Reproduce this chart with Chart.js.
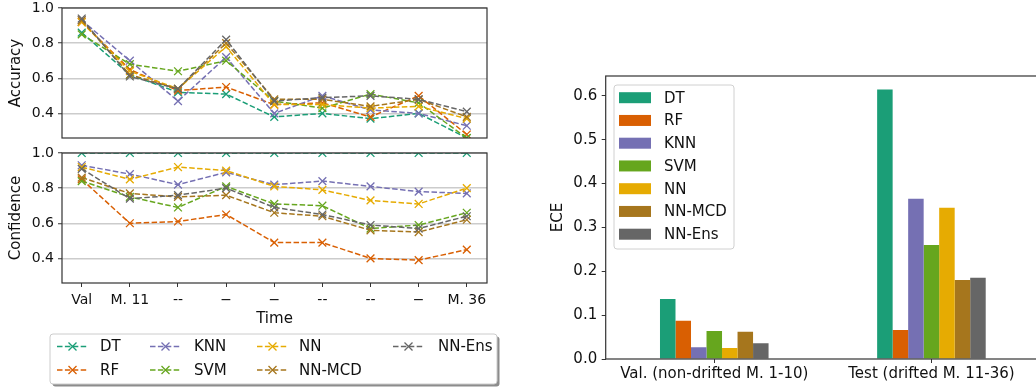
<!DOCTYPE html>
<html>
<head>
<meta charset="utf-8">
<script src="https://cdn.jsdelivr.net/npm/chart.js@4.4.0/dist/chart.umd.min.js"></script>
<style>
  html, body { margin: 0; padding: 0; background: #fff; overflow: hidden; width: 1036px; height: 387px; }
  canvas { position: absolute; }
</style>
</head>
<body>
<canvas id="accChart" width="500" height="150" style="left:0px;top:0px"></canvas>
<canvas id="confChart" width="500" height="242" style="left:0px;top:145px"></canvas>
<canvas id="eceChart" width="540" height="387" style="left:520px;top:0px"></canvas>
<script>
var models = ["DT", "RF", "KNN", "SVM", "NN", "NN-MCD", "NN-Ens"];
var colors = ["#1b9e77", "#d95f02", "#7570b3", "#66a61e", "#e6ab02", "#a6761d", "#666666"];
var timeLabels = ["Val", "M. 11", "--", "−", "−", "--", "--", "−", "M. 36"];
var lineTicks = [0.4, 0.6, 0.8, 1.0];

// accuracy per model over time
var accDT = [0.86, 0.62, 0.52, 0.51, 0.38, 0.40, 0.37, 0.40, 0.26];
var accRF = [0.92, 0.65, 0.53, 0.55, 0.45, 0.46, 0.38, 0.50, 0.28];
var accKNN = [0.93, 0.70, 0.47, 0.72, 0.40, 0.50, 0.42, 0.40, 0.33];
var accSVM = [0.85, 0.68, 0.64, 0.70, 0.47, 0.43, 0.51, 0.46, 0.26];
var accNN = [0.92, 0.64, 0.54, 0.78, 0.45, 0.45, 0.43, 0.44, 0.37];
var accMCD = [0.93, 0.62, 0.54, 0.80, 0.48, 0.48, 0.44, 0.48, 0.38];
var accEns = [0.94, 0.61, 0.54, 0.82, 0.47, 0.49, 0.50, 0.48, 0.41];

// confidence per model over time
var confDT = [1.0, 1.0, 1.0, 1.0, 1.0, 1.0, 1.0, 1.0, 1.0];
var confRF = [0.85, 0.60, 0.61, 0.65, 0.49, 0.49, 0.40, 0.39, 0.45];
var confKNN = [0.93, 0.88, 0.82, 0.89, 0.82, 0.84, 0.81, 0.78, 0.77];
var confSVM = [0.84, 0.75, 0.69, 0.81, 0.71, 0.70, 0.57, 0.59, 0.66];
var confNN = [0.92, 0.85, 0.92, 0.90, 0.81, 0.79, 0.73, 0.71, 0.80];
var confMCD = [0.86, 0.77, 0.75, 0.76, 0.66, 0.64, 0.56, 0.55, 0.62];
var confEns = [0.91, 0.74, 0.76, 0.80, 0.69, 0.65, 0.59, 0.57, 0.64];

// ECE bars
var eceGroups = ["Val. (non-drifted M. 1-10)", "Test (drifted M. 11-36)"];
var eceVal = [0.137, 0.087, 0.027, 0.064, 0.025, 0.062, 0.036];
var eceTest = [0.614, 0.066, 0.365, 0.260, 0.345, 0.180, 0.185];
var eceTicks = [0.0, 0.1, 0.2, 0.3, 0.4, 0.5, 0.6];

var FONT = "'DejaVu Sans', sans-serif";
var TEXT = "#111111";
var SPINE = "#333333";

Chart.defaults.font.family = FONT;
Chart.defaults.color = TEXT;

function lineSets(series) {
  return series.map(function (vals, i) {
    return {
      label: models[i],
      data: vals.map(function (v, k) { return { x: k, y: v }; }),
      borderColor: colors[i],
      backgroundColor: colors[i],
      borderWidth: 1.5,
      borderDash: [5.5, 2.4],
      pointStyle: "crossRot",
      pointRadius: 5.5,
      pointBorderWidth: 1.3,
      pointBorderColor: colors[i],
      fill: false,
      tension: 0,
      clip: 0,
      order: models.length - i
    };
  });
}

// keep tick labels from pushing the plot area around
function noPad(scale) {
  scale.paddingTop = 0;
  scale.paddingBottom = 0;
  scale.paddingLeft = 0;
  scale.paddingRight = 0;
}

var framePlugin = {
  id: "frame",
  afterDatasetsDraw: function (chart) {
    var a = chart.chartArea;
    var ctx = chart.ctx;
    ctx.save();
    ctx.strokeStyle = SPINE;
    ctx.lineWidth = 1.2;
    ctx.strokeRect(a.left, a.top, a.right - a.left, a.bottom - a.top);
    ctx.restore();
  }
};

function drawCross(ctx, x, y, r, color) {
  ctx.strokeStyle = color;
  ctx.lineWidth = 1.3;
  ctx.setLineDash([]);
  ctx.beginPath();
  ctx.moveTo(x - r, y - r); ctx.lineTo(x + r, y + r);
  ctx.moveTo(x - r, y + r); ctx.lineTo(x + r, y - r);
  ctx.stroke();
}

function roundRect(ctx, x, y, w, h, r) {
  ctx.beginPath();
  ctx.moveTo(x + r, y);
  ctx.arcTo(x + w, y, x + w, y + h, r);
  ctx.arcTo(x + w, y + h, x, y + h, r);
  ctx.arcTo(x, y + h, x, y, r);
  ctx.arcTo(x, y, x + w, y, r);
  ctx.closePath();
}

var lineLegend = {
  id: "lineLegend",
  afterDraw: function (chart) {
    var ctx = chart.ctx;
    var colX = [57, 150, 257, 393];
    var textX = [100, 194, 299, 438];
    var rowY = [201.5, 225];
    ctx.save();
    roundRect(ctx, 52.5, 191.5, 447, 50, 3);
    ctx.fillStyle = "#8c8c8c";
    ctx.fill();
    roundRect(ctx, 50, 189, 447, 50, 3);
    ctx.fillStyle = "#ffffff";
    ctx.fill();
    ctx.strokeStyle = "#cccccc";
    ctx.lineWidth = 1;
    ctx.stroke();
    ctx.font = "15px " + FONT;
    ctx.textBaseline = "middle";
    models.forEach(function (m, i) {
      var c = Math.floor(i / 2), r = i % 2;
      var x0 = colX[c], y = rowY[r];
      ctx.strokeStyle = colors[i];
      ctx.lineWidth = 1.5;
      ctx.setLineDash([5.5, 2.4]);
      ctx.beginPath();
      ctx.moveTo(x0, y);
      ctx.lineTo(x0 + 31, y);
      ctx.stroke();
      drawCross(ctx, x0 + 15.5, y, 4, colors[i]);
      ctx.fillStyle = TEXT;
      ctx.fillText(m, textX[c], y + 1);
    });
    ctx.restore();
  }
};

var barLegend = {
  id: "barLegend",
  afterDraw: function (chart) {
    var ctx = chart.ctx;
    ctx.save();
    roundRect(ctx, 94, 85, 120, 164, 3);
    ctx.fillStyle = "rgba(255,255,255,0.8)";
    ctx.fill();
    ctx.strokeStyle = "#d0d0d0";
    ctx.lineWidth = 1;
    ctx.stroke();
    ctx.font = "15px " + FONT;
    ctx.textBaseline = "middle";
    models.forEach(function (m, i) {
      var y = 97.7 + i * 22.75;
      ctx.fillStyle = colors[i];
      ctx.fillRect(99, y - 5.5, 32, 11);
      ctx.fillStyle = TEXT;
      ctx.fillText(m, 144, y + 1);
    });
    ctx.restore();
  }
};

function yAxisLine(title) {
  return {
    min: 0.26,
    max: 1.0,
    afterFit: function (scale) { scale.width = 62; noPad(scale); },
    afterBuildTicks: function (scale) {
      scale.ticks = lineTicks.map(function (v) { return { value: v }; });
    },
    ticks: {
      font: { size: 14 },
      color: TEXT,
      padding: 4,
      callback: function (v) { return v.toFixed(1); }
    },
    grid: {
      color: "#cccccc",
      lineWidth: 1.5,
      tickColor: SPINE,
      tickLength: 4,
      tickWidth: 1
    },
    border: { display: false },
    title: { display: true, text: title, font: { size: 15 }, color: TEXT, padding: { top: 7.5 } }
  };
}

function xAxisLine(show) {
  return {
    type: "linear",
    min: -0.41,
    max: 8.42,
    display: show,
    afterFit: function (scale) { if (show) scale.height = 47; noPad(scale); },
    afterBuildTicks: function (scale) {
      scale.ticks = timeLabels.map(function (t, i) { return { value: i }; });
    },
    ticks: {
      font: { size: 14 },
      color: TEXT,
      padding: 5,
      maxRotation: 0,
      autoSkip: false,
      callback: function (v) { return timeLabels[v]; }
    },
    grid: { drawOnChartArea: false, tickColor: SPINE, tickLength: 4, tickWidth: 1 },
    border: { display: false },
    title: { display: show, text: "Time", font: { size: 15 }, color: TEXT, padding: { top: 0, bottom: 2 } }
  };
}

function createLineChart(id, series, title, showX, bottomPad) {
  var ctx = document.getElementById(id).getContext("2d");
  return new Chart(ctx, {
    type: "line",
    data: { datasets: lineSets(series) },
    options: {
      responsive: false,
      animation: false,
      devicePixelRatio: 1,
      layout: { padding: { top: 8, right: 13, bottom: bottomPad, left: 0 } },
      plugins: { legend: { display: false }, tooltip: { enabled: false } },
      scales: { x: xAxisLine(showX), y: yAxisLine(title) }
    },
    plugins: showX ? [framePlugin, lineLegend] : [framePlugin]
  });
}

createLineChart("accChart", [accDT, accRF, accKNN, accSVM, accNN, accMCD, accEns], "Accuracy", false, 12);
createLineChart("confChart", [confDT, confRF, confKNN, confSVM, confNN, confMCD, confEns], "Confidence", true, 57);

function createBarChart() {
  var ctx = document.getElementById("eceChart").getContext("2d");
  var sets = models.map(function (m, i) {
    return {
      label: m,
      data: [eceVal[i], eceTest[i]],
      backgroundColor: colors[i],
      borderWidth: 0
    };
  });
  return new Chart(ctx, {
    type: "bar",
    data: { labels: eceGroups, datasets: sets },
    options: {
      responsive: false,
      animation: false,
      devicePixelRatio: 1,
      layout: { padding: { top: 76, right: 20, bottom: 0, left: 0 } },
      datasets: { bar: { categoryPercentage: 0.5, barPercentage: 1.0 } },
      plugins: { legend: { display: false }, tooltip: { enabled: false } },
      scales: {
        x: {
          afterFit: function (scale) { scale.height = 28; noPad(scale); },
          ticks: { font: { size: 15 }, color: TEXT, padding: 2, maxRotation: 0 },
          grid: { offset: false, drawOnChartArea: false, tickColor: SPINE, tickLength: 4, tickWidth: 1 },
          border: { display: false }
        },
        y: {
          min: 0,
          max: 0.645,
          afterFit: function (scale) { scale.width = 85.7; noPad(scale); },
          afterBuildTicks: function (scale) {
            scale.ticks = eceTicks.map(function (v) { return { value: v }; });
          },
          ticks: {
            font: { size: 15 },
            color: TEXT,
            padding: 4.5,
            callback: function (v) { return v.toFixed(1); }
          },
          grid: { drawOnChartArea: false, tickColor: SPINE, tickLength: 4, tickWidth: 1 },
          border: { display: false },
          title: { display: true, text: "ECE", font: { size: 15 }, color: TEXT, padding: { top: 29 } }
        }
      }
    },
    plugins: [framePlugin, barLegend]
  });
}

createBarChart();
</script>
</body>
</html>
